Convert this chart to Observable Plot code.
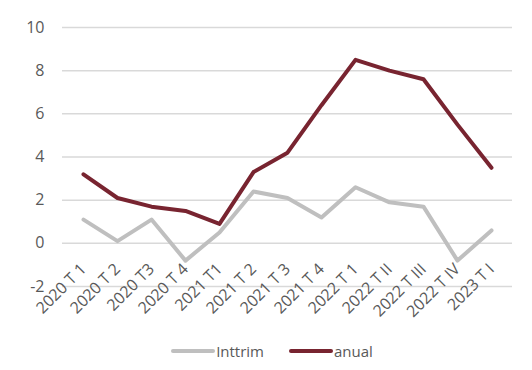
<!DOCTYPE html>
<html>
<head>
<meta charset="utf-8">
<script src="https://cdn.jsdelivr.net/npm/d3@7"></script>
<script src="https://cdn.jsdelivr.net/npm/@observablehq/plot@0.6"></script>
<style>
  body { margin: 0; background: #fff; font-family: "Open Sans", sans-serif; }
  #chart { width: 532px; }
  .legend { display: flex; justify-content: center; align-items: center; gap: 25px; font-size: 15px; color: #595959; margin-top: 16px; margin-left: 12px; line-height: 20px; }
  .legend .item { display: flex; align-items: center; }
  .legend .sw { display: inline-block; width: 44px; height: 4px; border-radius: 2px; margin-right: 1px; }
</style>
</head>
<body>
<div id="chart"></div>
<script>
const categories = ["2020 T 1","2020 T 2","2020 T3","2020 T 4","2021 T1","2021 T 2","2021 T 3","2021 T 4","2022 T 1","2022 T II","2022 T III","2022 T IV","2023 T I"];
const inttrim = [1.1, 0.1, 1.1, -0.8, 0.5, 2.4, 2.1, 1.2, 2.6, 1.9, 1.7, -0.8, 0.6];
const anual = [3.2, 2.1, 1.7, 1.5, 0.9, 3.3, 4.2, 6.4, 8.5, 8.0, 7.6, 5.5, 3.5];
const yTicks = [-2, 0, 2, 4, 6, 8, 10];
const seriesNames = ["Inttrim", "anual"];
const colors = ["#BFBFBF", "#782430"];

const rows = [];
categories.forEach((c, i) => {
  rows.push({cat: c, series: seriesNames[0], value: inttrim[i]});
  rows.push({cat: c, series: seriesNames[1], value: anual[i]});
});

const plot = Plot.plot({
  width: 532,
  height: 325,
  marginLeft: 62,
  marginRight: 20,
  marginTop: 27,
  marginBottom: 39,
  style: { fontFamily: "Open Sans, sans-serif", fontSize: "15px", color: "#595959", background: "#fff", overflow: "visible" },
  x: { type: "point", domain: categories, padding: 0.5 },
  y: { domain: [-2, 10] },
  color: { domain: seriesNames, range: colors },
  marks: [
    Plot.gridY(yTicks, { stroke: "#D9D9D9", strokeOpacity: 1, strokeWidth: 1.5 }),
    Plot.axisY(yTicks, { tickSize: 0, tickPadding: 18, fontSize: 16, fill: "#595959", label: null, tickFormat: d => String(d) }),
    Plot.axisX({ tickSize: 0, tickRotate: -45, tickPadding: 0, dx: 0, dy: -20, fontSize: 16, fill: "#595959", label: null }),
    Plot.line(rows, { x: "cat", y: "value", stroke: "series", z: "series", strokeWidth: 4, strokeLinejoin: "round", strokeLinecap: "round" })
  ]
});
document.getElementById("chart").appendChild(plot);

const legend = document.createElement("div");
legend.className = "legend";
seriesNames.forEach((s, i) => {
  const item = document.createElement("div");
  item.className = "item";
  const sw = document.createElement("span");
  sw.className = "sw";
  sw.style.background = colors[i];
  item.appendChild(sw);
  item.appendChild(document.createTextNode(s));
  legend.appendChild(item);
});
document.getElementById("chart").appendChild(legend);
</script>
</body>
</html>
